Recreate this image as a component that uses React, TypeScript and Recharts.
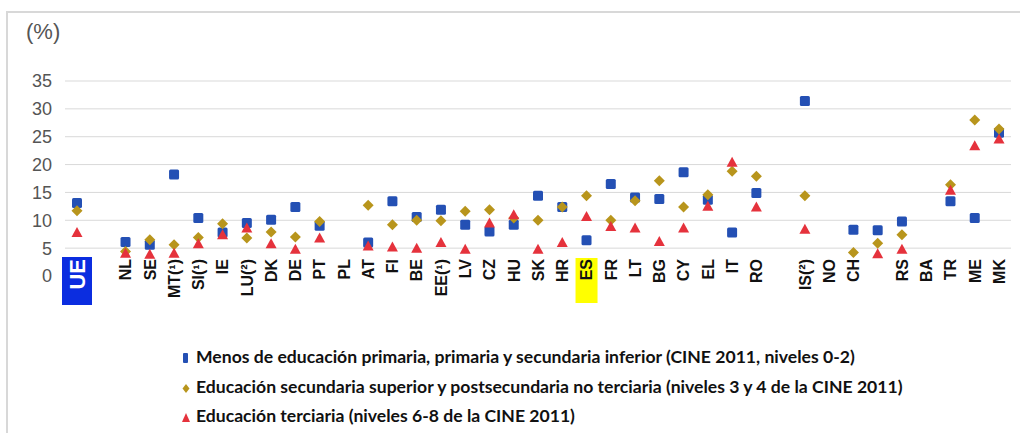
import React from "react";
import { ComposedChart, Scatter, XAxis, YAxis, CartesianGrid } from "recharts";

// country codes along the axis ("" = empty slot)
const codes = [
  "UE", "", "NL", "SE", "MT(¹)", "SI(¹)", "IE", "LU(²)", "DK", "DE", "PT", "PL", "AT",
  "FI", "BE", "EE(¹)", "LV", "CZ", "HU", "SK", "HR", "ES", "FR", "LT", "BG", "CY",
  "EL", "IT", "RO", "", "IS(²)", "NO", "CH", "", "RS", "BA", "TR", "ME", "MK",
];

// Menos de educación primaria, primaria y secundaria inferior (niveles 0-2)
const lowEdu = [
  13.1, null, 6.1, 5.6, 18.2, 10.4, 7.8, 9.5, 10.1, 12.4, 9.0, null, 6.0,
  13.4, 10.6, 11.9, 9.2, 8.0, 9.2, 14.4, 12.4, 6.4, 16.5, 14.1, 13.8, 18.6,
  13.7, 7.8, 14.9, null, 31.4, null, 8.3, 8.2, 9.8, null, 13.4, 10.4, 25.7,
];

// Educación secundaria superior y postsecundaria no terciaria (niveles 3 y 4)
const midEdu = [
  11.7, null, 4.4, 6.5, 5.6, 6.9, 9.4, 6.8, 7.9, 7.0, 9.8, null, 12.7,
  9.2, 10.0, 9.9, 11.6, 11.9, 10.4, 10.0, 12.4, 14.4, 10.0, 13.5, 17.1, 12.4,
  14.6, 18.8, 17.9, null, 14.4, null, 4.2, 5.9, 7.4, null, 16.4, 28.0, 26.4,
];

// Educación terciaria (niveles 6-8)
const highEdu = [
  7.8, null, 4.1, 3.9, 4.1, 5.8, 7.4, 8.6, 5.8, 4.8, 6.8, null, 5.4,
  5.2, 5.0, 6.0, 4.8, 9.5, 11.0, 4.8, 6.0, 10.7, 8.9, 8.6, 6.2, 8.6,
  12.5, 20.4, 12.4, null, 8.4, null, null, 4.0, 4.8, null, 15.4, 23.4, 24.6,
];

const yTicks = [0, 5, 10, 15, 20, 25, 30, 35];

const seriesInfo = [
  { key: "low", name: "Menos de educación primaria, primaria y secundaria inferior (CINE 2011, niveles 0-2)", color: "#2450b4", shape: "square" },
  { key: "mid", name: "Educación secundaria superior y postsecundaria no terciaria (niveles 3 y 4 de la CINE 2011)", color: "#b8951c", shape: "diamond" },
  { key: "high", name: "Educación terciaria (niveles 6-8 de la CINE 2011)", color: "#e5323c", shape: "triangle" },
];

const rows = codes.map((code, i) => ({
  code,
  low: lowEdu[i],
  mid: midEdu[i],
  high: highEdu[i],
}));

const Marker = ({ cx, cy, kind, color }: any) => {
  if (cx == null || cy == null || !isFinite(cx) || !isFinite(cy)) return null;
  if (kind === "square") {
    return <rect x={cx - 5} y={cy - 5} width={10} height={10} rx={1.5} fill={color} />;
  }
  if (kind === "diamond") {
    return <polygon points={`${cx},${cy - 5.5} ${cx + 5.5},${cy} ${cx},${cy + 5.5} ${cx - 5.5},${cy}`} fill={color} />;
  }
  return <polygon points={`${cx},${cy - 5.5} ${cx + 5.5},${cy + 4.5} ${cx - 5.5},${cy + 4.5}`} fill={color} />;
};

const CountryTick = (props: any) => {
  const { x, y, payload } = props;
  const label: string = payload.value;
  if (!label) return null;
  const top = y - 19;
  const isEU = label === "UE";
  const isES = label === "ES";
  return (
    <g>
      {isEU && <rect x={x - 15} y={top} width={30} height={48} fill="#0b2de0" />}
      {isES && <rect x={x - 11} y={top + 1} width={22} height={45} fill="#ffff00" />}
      <text
        transform={`translate(${x},${top + 2}) rotate(-90)`}
        textAnchor="end"
        dy="0.36em"
        fontFamily="Liberation Sans, Arial, sans-serif"
        fontWeight="bold"
        fontSize={isEU ? 22 : 16}
        fill={isEU ? "#ffffff" : "#111111"}
      >
        {label}
      </text>
    </g>
  );
};

const LegendMark = ({ kind, color }: any) => (
  <svg width={10} height={12} style={{ marginRight: 4, verticalAlign: "-1px" }}>
    {kind === "square" && <rect x={1} y={1} width={5} height={10} rx={1} fill={color} />}
    {kind === "diamond" && <polygon points="4,2 7.5,6.5 4,11 0.5,6.5" fill={color} />}
    {kind === "triangle" && <polygon points="4,2 8,11 0,11" fill={color} />}
  </svg>
);

export default function App() {
  return (
    <div style={{ position: "absolute", left: 0, top: 0, width: 1020, height: 433, background: "#fff", overflow: "hidden" }}>
      <div style={{ position: "absolute", left: 6, top: 11, right: 0, bottom: 0, borderLeft: "2px solid #d8d8d8", borderTop: "2px solid #d8d8d8" }} />
      <div style={{ position: "absolute", left: 26, top: 19, fontFamily: "Liberation Sans, Arial, sans-serif", fontSize: 22, color: "#555" }}>
        (%)
      </div>
      <div style={{ position: "absolute", left: 0, top: 0 }}>
        <ComposedChart width={1020} height={316} data={rows} margin={{ top: 81, right: 9, bottom: 0, left: 0 }}>
          <CartesianGrid vertical={false} stroke="#d9d9d9" horizontalValues={yTicks.filter((v) => v > 0)} />
          <XAxis
            dataKey="code"
            type="category"
            interval={0}
            tick={<CountryTick />}
            tickLine={false}
            axisLine={false}
            tickSize={0}
            tickMargin={0}
            height={40}
            padding={{ left: 12, right: 12 }}
          />
          <YAxis
            domain={[0, 35]}
            ticks={yTicks}
            width={65}
            axisLine={false}
            tickLine={false}
            tickSize={0}
            tickMargin={13}
            tick={{ fontSize: 18, fill: "#555", fontFamily: "Liberation Sans, Arial, sans-serif" }}
          />
          {seriesInfo.map((s) => (
            <Scatter
              key={s.key}
              dataKey={s.key}
              name={s.name}
              fill={s.color}
              isAnimationActive={false}
              shape={(p: any) => <Marker {...p} kind={s.shape} color={s.color} />}
            />
          ))}
        </ComposedChart>
      </div>
      <div style={{ position: "absolute", left: 182, top: 342, fontFamily: "Lato, sans-serif", fontWeight: 700, fontSize: 17.6, lineHeight: "29.5px", color: "#111" }}>
        {seriesInfo.map((s) => (
          <div key={s.key} style={{ whiteSpace: "nowrap" }}>
            <LegendMark kind={s.shape} color={s.color} />
            {s.name}
          </div>
        ))}
      </div>
    </div>
  );
}
